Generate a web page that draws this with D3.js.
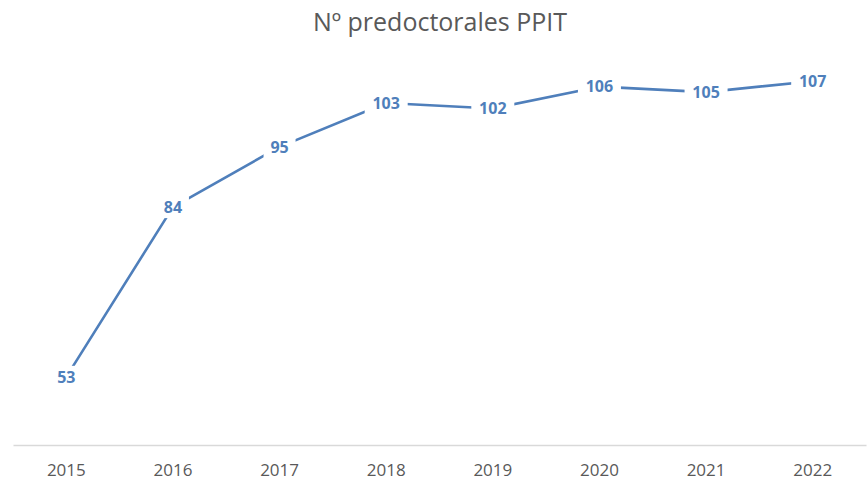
<!DOCTYPE html>
<html>
<head>
<meta charset="utf-8">
<script src="https://cdn.jsdelivr.net/npm/d3@7"></script>
<style>
  body { margin: 0; background: #fff; }
</style>
</head>
<body>
<script>
// chart data
const years = ["2015", "2016", "2017", "2018", "2019", "2020", "2021", "2022"];
const counts = [53, 84, 95, 103, 102, 106, 105, 107];
const title = "Nº predoctorales PPIT";

const canvWidth = 868, canvHeight = 482;
const lineColor = "#4f7fbb";
const font = "'Open Sans', 'Liberation Sans', sans-serif";

const svg = d3.select("body").append("svg")
    .attr("width", canvWidth)
    .attr("height", canvHeight);

// plot area
const plot = {left: 13, right: 866, top: 10, bottom: 448};

const xScale = d3.scaleBand()
    .domain(years)
    .range([plot.left, plot.right]);

const yScale = d3.scaleLinear()
    .domain([40, 120])
    .range([plot.bottom, plot.top]);

// title
svg.append("text")
    .attr("x", 440)
    .attr("y", 31)
    .attr("font-family", font)
    .attr("font-size", "25px")
    .attr("fill", "#595959")
    .style("text-anchor", "middle")
    .text(title);

// x axis
const xAxis = d3.axisBottom(xScale).tickSize(0).tickPadding(19);
const gx = svg.append("g")
    .attr("transform", "translate(0," + 445 + ")")
    .call(xAxis);
gx.select(".domain").attr("stroke", "#d9d9d9").attr("stroke-width", 1.3);
gx.selectAll("text")
    .attr("font-family", font)
    .attr("font-size", "17px")
    .attr("fill", "#595959");

const cx = d => xScale(d) + xScale.bandwidth() / 2;

// line
const line = d3.line()
    .x((d, i) => cx(years[i]))
    .y(d => yScale(d));

svg.append("path")
    .datum(counts)
    .attr("d", line)
    .attr("fill", "none")
    .attr("stroke", lineColor)
    .attr("stroke-width", 2.6)
    .attr("stroke-linejoin", "round");

// labels with white boxes on top of the line
const labels = svg.append("g").selectAll("g")
    .data(counts)
    .enter().append("g")
    .attr("transform", (d, i) => "translate(" + cx(years[i]) + "," + yScale(d) + ")");

labels.append("rect")
    .attr("x", d => -(String(d).length * 5.5 + 5))
    .attr("y", -11)
    .attr("width", d => String(d).length * 11 + 10)
    .attr("height", 22)
    .attr("fill", "#fff");

labels.append("text")
    .attr("dy", "0.36em")
    .attr("font-family", font)
    .attr("font-size", "16px")
    .attr("font-weight", "bold")
    .attr("fill", lineColor)
    .style("text-anchor", "middle")
    .text(d => d);
</script>
</body>
</html>
